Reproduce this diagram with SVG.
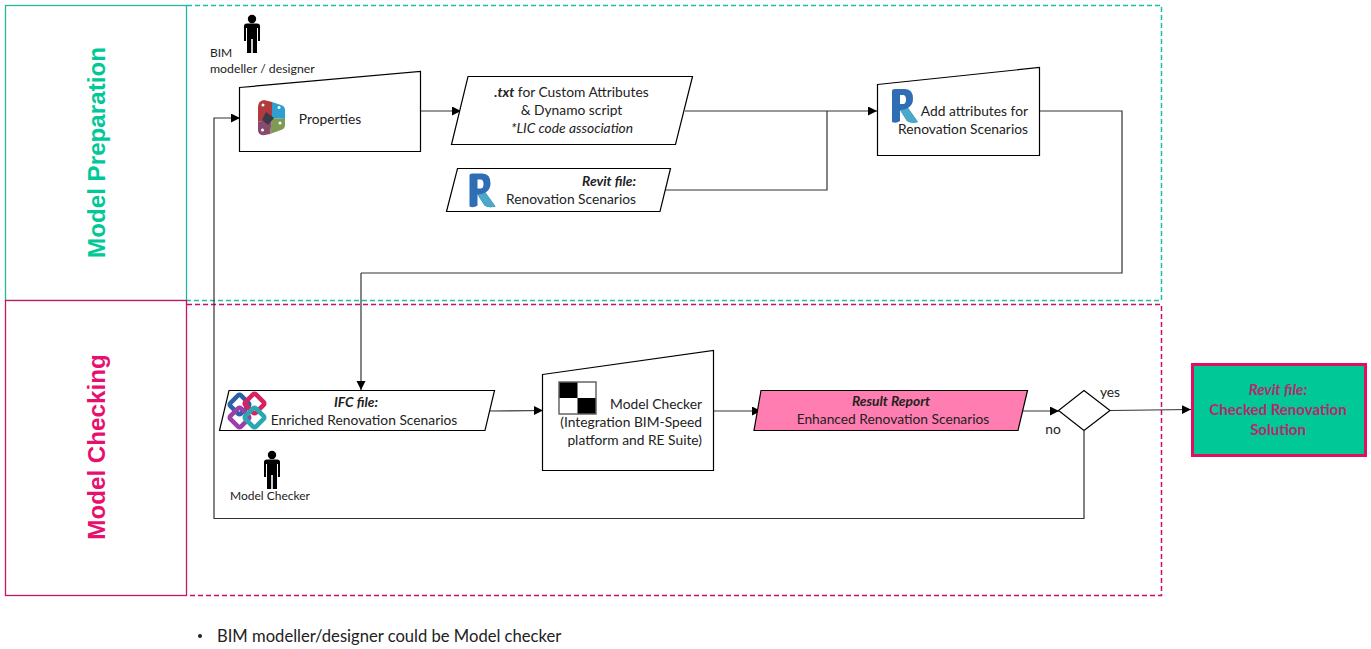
<svg xmlns="http://www.w3.org/2000/svg" width="1371" height="649" viewBox="0 0 1371 649">
<style>
text{font-family:Lato,"Noto Sans",sans-serif;font-size:13.800px;fill:#222;text-anchor:middle}
.b{font-weight:700;font-style:italic}.i{font-style:italic}
.e{text-anchor:end}
.s{text-anchor:start}
.sm{font-size:12px}
.box{fill:#fff;stroke:#000;stroke-width:1.2}
.c{fill:none;stroke:#333;stroke-width:1.2;marker-end:url(#a)}
.n{fill:none;stroke:#333;stroke-width:1.2}
.lane{font-family:"Liberation Sans",Arial,sans-serif;font-size:24.200px;font-weight:700}
.res{fill:#b8286e;font-size:15px;font-weight:700}
</style>
<defs>
<marker id="a" markerUnits="userSpaceOnUse" markerWidth="10" markerHeight="10" refX="9" refY="4.5" orient="auto"><path d="M0 0L9 4.500L0 9z" fill="#000"/></marker>
<g id="person"><circle cx="0" cy="-15" r="4.200" fill="#000"/><path d="M-8-8Q-8-10.500-5-10.500H5Q8-10.500 8-8V7H6V-6H5V19H.8V5H-.8V19H-5V-6H-6V7H-8z" fill="#000"/></g>
<g id="revit"><path d="M0 2Q0 0 3 0H13Q21 0 21 10Q21 16 16 19L26 33Q19 35 15 32L8 21V32Q4 35 0 33z" fill="#2f6db5"/><path d="M8 6H11Q14 6 14 10.500Q14 15 11 15H8z" fill="#fff"/><path d="M8 21L15 32Q19 35 26 33L16 19Q12 21 8 21z" fill="#4aa8c8"/></g>
</defs>
<g id="lane-preparation">
<rect x="5.500" y="5.500" width="181" height="295" fill="#fff" stroke="#22b8a0" stroke-width="1.300"/>
<path d="M187 5.500H1161.500V300.500H187" fill="none" stroke="#18bfa5" stroke-width="1.500" stroke-dasharray="5 3"/>
<text class="lane" transform="translate(105 152.500) rotate(-90)" style="fill:#00c896">Model Preparation</text>
</g>
<g id="lane-checking">
<rect x="5.500" y="300.500" width="181" height="295" fill="#fff" stroke="#c8145f" stroke-width="1.300"/>
<path d="M187 304.500H1161.500V595.500H187" fill="none" stroke="#c8106a" stroke-width="1.500" stroke-dasharray="5 3"/>
<text class="lane" transform="translate(105 447) rotate(-90)" style="fill:#e8106e">Model Checking</text>
</g>
<g id="connectors">
<path class="c" d="M421 111L461 111"/>
<path class="c" d="M685 111H877"/>
<path class="n" d="M665 190H827V111"/>
<path class="n" d="M1040 111H1122V273H361"/>
<path class="c" d="M361 273V390"/>
<path class="c" d="M490 411L543 410.500"/>
<path class="c" d="M713 411H761"/>
<path class="c" d="M1021 411H1059"/>
<path class="c" d="M1110 410.500L1191 409.500"/>
<path class="c" d="M1084 431V518.500H214V118H240"/>
</g>
<g id="person-designer"><use href="#person" x="252" y="34"/><text class="s sm" x="210" y="57">BIM</text><text class="s" x="210" y="73" style="font-size:12.300px">modeller / designer</text></g>
<g id="properties"><path class="box" d="M239.500 87.500L420.500 71.500V151.500H239.500z"/>
<path d="M258 107Q258 101 264 100L272 102V118L258 122z" fill="#b03a3c"/><path d="M272 102L281 105Q285 106 285 110V119L272 118z" fill="#2f9fd0"/><path d="M272 118L285 119V125Q285 129 281 130L270 134z" fill="#7f9a55"/><path d="M258 122L272 118L270 134L265 135Q258 136 258 130z" fill="#8a4a70"/><path d="M266 112L274 118L268 125L262 120z" fill="#3a3a4a"/>
<g fill="#fff"><circle cx="263" cy="105" r="1.500"/><circle cx="279" cy="107.500" r="1.500"/><circle cx="280" cy="123" r="1.500"/><circle cx="262.500" cy="130" r="1.500"/></g>
<text x="330" y="124">Properties</text></g>
<g id="txt-file"><path class="box" d="M468 76.500H692.500L675.500 144.500H451.500z"/>
<text x="571.500" y="97"><tspan class="b">.txt</tspan> for Custom Attributes</text><text x="571.500" y="115">&amp; Dynamo script</text><text class="i" x="572" y="133">*LIC code association</text></g>
<g id="revit-file"><path class="box" d="M457.500 168.500H670.500L660 211.500H446.500z"/><use href="#revit" x="469.500" y="173.500"/>
<text class="b e" x="636" y="186">Revit file:</text><text class="e" x="636" y="204">Renovation Scenarios</text></g>
<g id="add-attributes"><path class="box" d="M877.500 84.500L1039.500 67.500V155.500H877.500z"/><use href="#revit" x="892" y="89"/>
<text class="e" x="1028" y="116">Add attributes for</text><text class="e" x="1028" y="134">Renovation Scenarios</text></g>
<g id="ifc-file"><path class="box" d="M229 390.500H494.500L485 430.500H219.500z"/>
<g fill="none" stroke-width="4.500"><rect x="232" y="397" width="15" height="15" rx="2" transform="rotate(45 239.500 404.500)" stroke="#2a62a8"/><rect x="247" y="396" width="15" height="15" rx="2" transform="rotate(45 254.500 403.500)" stroke="#d8215f"/><rect x="232" y="410" width="15" height="15" rx="2" transform="rotate(45 239.500 417.500)" stroke="#9c3fa8"/><rect x="247" y="410" width="15" height="15" rx="2" transform="rotate(45 254.500 417.500)" stroke="#2aa8b0"/></g>
<text class="b" x="356" y="407">IFC file:</text><text x="364" y="425">Enriched Renovation Scenarios</text></g>
<g id="person-checker"><use href="#person" x="272" y="470"/><text class="sm" x="270" y="500">Model Checker</text></g>
<g id="model-checker"><path class="box" d="M542.500 374.500L713.500 350.500V470.500H542.500z"/>
<rect x="559" y="382" width="37" height="32" fill="#fff" stroke="#666" stroke-width="1.500"/><rect x="559.500" y="382.500" width="18" height="15.500" fill="#000"/><rect x="577.500" y="398" width="18" height="15.500" fill="#000"/>
<text class="e" x="702" y="409">Model Checker</text><text class="e" x="702" y="427">(Integration BIM-Speed</text><text class="e" x="702" y="445">platform and RE Suite)</text></g>
<g id="result-report"><path d="M761 390.500H1027.500L1018 430.500H754z" fill="#ff7db0" stroke="#000" stroke-width="1.200"/>
<text class="b" x="891" y="406">Result Report</text><text x="893" y="424">Enhanced Renovation Scenarios</text></g>
<g id="decision"><path class="box" d="M1084 390.500L1110 410.500L1084 430.500L1058.500 410.500z"/>
<text x="1110" y="397">yes</text><text x="1053" y="434">no</text></g>
<g id="revit-result"><rect x="1192.500" y="364.500" width="173" height="91" fill="#00c896" stroke="#e0105f" stroke-width="3"/>
<text class="b res" x="1278" y="395">Revit file:</text><text class="res" x="1278" y="415">Checked Renovation</text><text class="res" x="1278" y="435">Solution</text></g>
<g id="note"><circle cx="200" cy="636" r="2" fill="#222"/><text class="s" x="217" y="642" style="font-size:16.600px">BIM modeller/designer could be Model checker</text></g>
</svg>
